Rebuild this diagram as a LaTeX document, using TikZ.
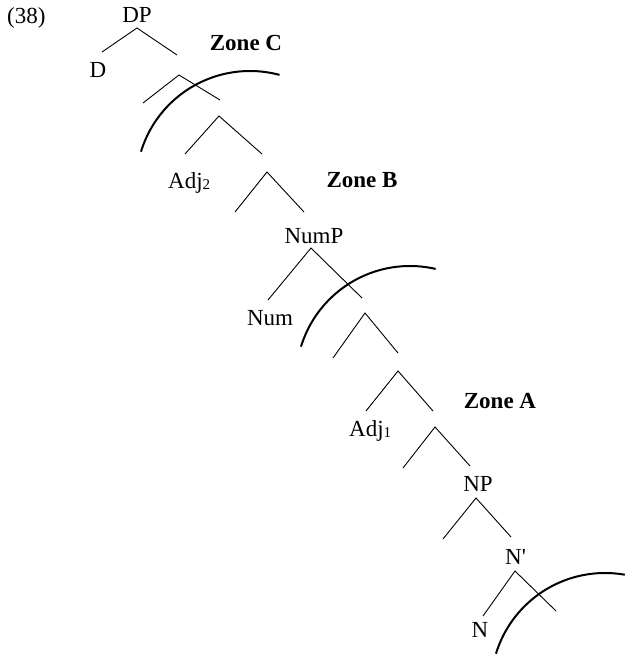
\documentclass[tikz,border=0pt]{standalone}
\usepackage{fontspec}
\setmainfont{Liberation Serif}[Ligatures=TeXOff]
\begin{document}
\begin{tikzpicture}[x=1pt,y=-1pt,
  lbl/.style={inner sep=0pt, font=\fontsize{23}{27}\selectfont},
  zone/.style={lbl, font=\fontsize{23}{27}\selectfont\bfseries},
  branch/.style={line width=0.9pt},
  zonearc/.style={line width=2pt}]
\useasboundingbox (0,0) rectangle (624,656);
\newcommand{\smallsub}[1]{{\fontsize{15}{15}\selectfont\raisebox{-1pt}{#1}}}
% labels
\node[lbl, anchor=base west] (ex) at (7,23) {(38)};
\node[lbl, anchor=base] (dp) at (137,22) {DP};
\node[lbl, anchor=base] (d) at (98,77) {D};
\node[zone, anchor=base] (zc) at (246,50) {Zone C};
\node[lbl, anchor=base west] (adj2) at (168,188) {Adj\smallsub{2}};
\node[zone, anchor=base] (zb) at (362,187) {Zone B};
\node[lbl, anchor=base] (nump) at (314,243) {NumP};
\node[lbl, anchor=base] (num) at (270,325) {Num};
\node[zone, anchor=base] (za) at (500,408) {Zone A};
\node[lbl, anchor=base west] (adj1) at (349,436) {Adj\smallsub{1}};
\node[lbl, anchor=base] (np) at (478,491) {NP};
\node[lbl, anchor=base west] (nbar) at (505,564) {N'};
\node[lbl, anchor=base] (n) at (480,637) {N};
% branches
\foreach \k/\ax/\ay/\lx/\ly/\rx/\ry in {
  1/137/28/102/52/177/55,
  2/179/75/143/103/220/100,
  3/219/116/185/154/262/154,
  4/267/172/235/212/304/212,
  5/311/248/268/300/362/298,
  6/365/313/333/358/398/353,
  7/398/371/366/411/433/411,
  8/435/427/403/468/470/466,
  9/476/498/443/539/511/537,
  10/515/571/483/616/556/611}{
  \coordinate (a\k) at (\ax,\ay);
  \coordinate (l\k) at (\lx,\ly);
  \coordinate (r\k) at (\rx,\ry);
  \draw[branch] (l\k) -- (a\k) -- (r\k);
}
% zone arcs
\draw[zonearc, domain=163:75, samples=80, smooth] plot ({250+114*cos(\x)}, {185-114*sin(\x)});
\draw[zonearc, domain=163:77, samples=80, smooth] plot ({410+114*cos(\x)}, {380-114*sin(\x)});
\draw[zonearc, domain=163:80, samples=80, smooth] plot ({605+114*cos(\x)}, {687-114*sin(\x)});
\end{tikzpicture}
\end{document}
